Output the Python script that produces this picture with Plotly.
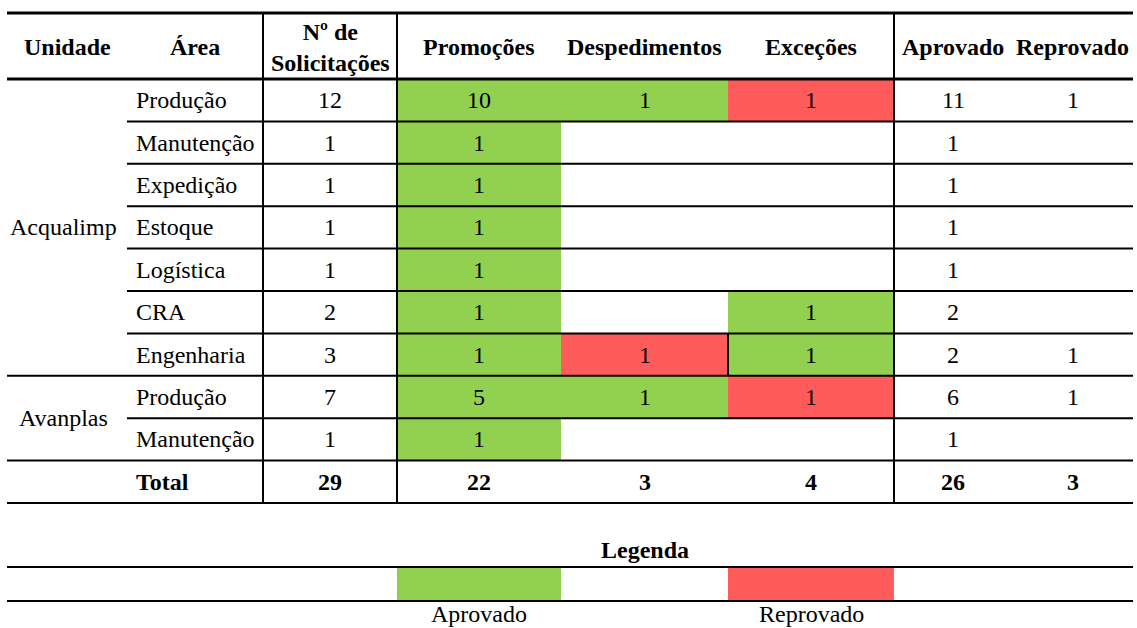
import plotly.graph_objects as go

# ---------------- data ----------------
headers = ["Unidade", "Área", "Nº de<br>Solicitações", "Promoções",
           "Despedimentos", "Exceções", "Aprovado", "Reprovado"]
units = ["Acqualimp", "Avanplas"]
unit_rows = [7, 2]
areas = ["Produção", "Manutenção", "Expedição", "Estoque", "Logística",
         "CRA", "Engenharia", "Produção", "Manutenção"]
solicitacoes = [12, 1, 1, 1, 1, 2, 3, 7, 1]
promocoes = [10, 1, 1, 1, 1, 1, 1, 5, 1]
despedimentos = [1, None, None, None, None, None, 1, 1, None]
excecoes = [1, None, None, None, None, 1, 1, 1, None]
promo_status = ["A", "A", "A", "A", "A", "A", "A", "A", "A"]
desp_status = ["A", None, None, None, None, None, "R", "A", None]
exc_status = ["R", None, None, None, None, "A", "A", "R", None]
aprovado = [11, 1, 1, 1, 1, 2, 2, 6, 1]
reprovado = [1, None, None, None, None, None, 1, 1, None]
total_label = "Total"
totals = [29, 22, 3, 4, 26, 3]
legend_title = "Legenda"
legend_labels = ["Aprovado", "Reprovado"]
legend_status = ["A", "R"]

# ---------------- layout / style ----------------
W, H = 1137, 628
FONT = "Liberation Serif"
FS = 24
GREEN = "#92D050"
RED = "#FF5B5B"
status_color = {"A": GREEN, "R": RED}
col_edges = [7, 127, 263, 397, 561, 728, 894, 1012, 1133]
TOP = 13
HDR_BOT = 79
ROW_H = 42.4
n_rows = len(areas)
LEG_TITLE_Y = 550
LEG_TOP, LEG_BOT = 567, 601
LEG_LBL_Y = 614
AREA_TEXT_X = 134


def ctr(c):
    return (col_edges[c] + col_edges[c + 1]) / 2


def row_top(i):
    return HDR_BOT + i * ROW_H


def row_mid(i):
    return row_top(i) + ROW_H / 2


shapes = []
ann = []


def add_text(x, y, s, bold=False, xanchor="center", size=FS):
    ann.append(dict(x=x, y=y, xref="x", yref="y", text=f"<b>{s}</b>" if bold else str(s),
                    showarrow=False, xanchor=xanchor, yanchor="middle",
                    font=dict(family=FONT, size=size, color="black")))


def rect(x0, x1, y0, y1, color):
    shapes.append(dict(type="rect", xref="x", yref="y", x0=x0, x1=x1, y0=y0, y1=y1,
                       fillcolor=color, line=dict(width=0), layer="below"))


def line(x0, y0, x1, y1, w=2):
    shapes.append(dict(type="line", xref="x", yref="y", x0=x0, x1=x1, y0=y0, y1=y1,
                       line=dict(color="black", width=w), layer="above"))


# coloured cells
for i in range(n_rows):
    for c, st in zip([3, 4, 5], [promo_status[i], desp_status[i], exc_status[i]]):
        if st:
            rect(col_edges[c], col_edges[c + 1], row_top(i), row_top(i + 1), status_color[st])

# header
for c, h in enumerate(headers):
    add_text(ctr(c), (TOP + HDR_BOT) / 2 + 1, h, bold=True)

# unit labels
start = 0
for u, n in zip(units, unit_rows):
    add_text(ctr(0) - 4, (row_top(start) + row_top(start + n)) / 2, u)
    start += n

# body
for i in range(n_rows):
    y = row_mid(i)
    add_text(AREA_TEXT_X, y, areas[i], xanchor="left")
    vals = [solicitacoes[i], promocoes[i], despedimentos[i], excecoes[i], aprovado[i], reprovado[i]]
    for c, v in zip(range(2, 8), vals):
        if v is not None:
            add_text(ctr(c), y, v)

# total row
yt = row_mid(n_rows)
add_text(AREA_TEXT_X, yt, total_label, bold=True, xanchor="left")
for c, v in zip(range(2, 8), totals):
    add_text(ctr(c), yt, v, bold=True)

# horizontal lines
line(col_edges[0], TOP, col_edges[-1], TOP, 3)
line(col_edges[0], HDR_BOT, col_edges[-1], HDR_BOT, 3)
start = 0
for n in unit_rows:
    for k in range(1, n):
        line(col_edges[1], row_top(start + k), col_edges[-1], row_top(start + k), 2)
    start += n
    line(col_edges[0], row_top(start), col_edges[-1], row_top(start), 2)
line(col_edges[0], row_top(n_rows + 1), col_edges[-1], row_top(n_rows + 1), 2)

# vertical lines
bottom = row_top(n_rows + 1)
for c in [2, 3, 6]:
    line(col_edges[c], TOP, col_edges[c], bottom, 2)
# border between Despedimentos and Exceções in Engenharia row
eng = 6
line(col_edges[5], row_top(eng), col_edges[5], row_top(eng + 1), 2)

# legend
add_text(ctr(4), LEG_TITLE_Y, legend_title, bold=True)
for lbl, st, c in zip(legend_labels, legend_status, [3, 5]):
    rect(col_edges[c], col_edges[c + 1], LEG_TOP, LEG_BOT, status_color[st])
    add_text(ctr(c), LEG_LBL_Y, lbl)
line(col_edges[0], LEG_TOP, col_edges[-1], LEG_TOP, 2)
line(col_edges[0], LEG_BOT, col_edges[-1], LEG_BOT, 2)

fig = go.Figure()
fig.update_layout(
    width=W, height=H, margin=dict(l=0, r=0, t=0, b=0),
    font=dict(family=FONT, size=FS, color="black"),
    paper_bgcolor="white", plot_bgcolor="white",
    xaxis=dict(range=[0, W], visible=False, fixedrange=True),
    yaxis=dict(range=[H, 0], visible=False, fixedrange=True),
    shapes=shapes, annotations=ann, showlegend=False,
)
fig.write_html("out.html")
